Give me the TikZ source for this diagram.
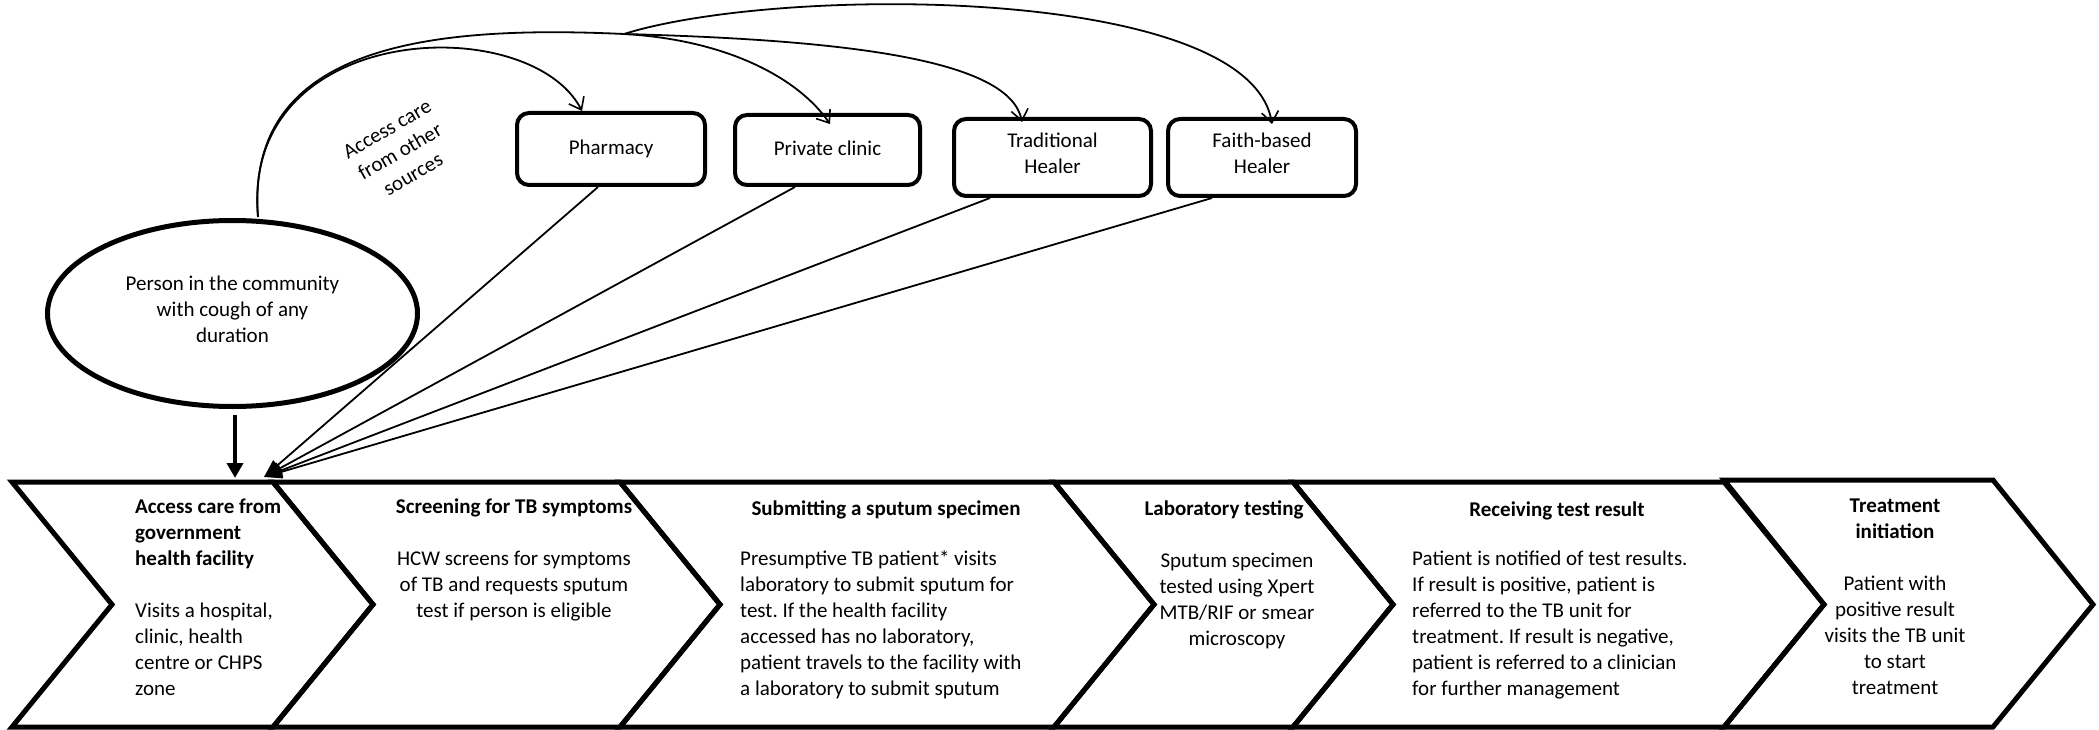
\documentclass[tikz,border=0pt]{standalone}
\usepackage{fontspec}
\setmainfont{Carlito}
\usetikzlibrary{arrows.meta,shapes.geometric}
\frenchspacing
\begin{document}
\begin{tikzpicture}[x=1pt,y=-1pt,
  every node/.style={font=\fontsize{21}{26}\selectfont\frenchspacing, inner sep=0pt,
    execute at begin node=\strut, execute at end node=\strut},
  chev/.style={draw=black, line width=5pt, line join=miter},
  srcbox/.style={draw=black, line width=4pt, rounded corners=12pt, align=center},
  cur/.style={line width=1.8pt, -{Straight Barb[length=11pt,width=17pt,line width=1.6pt]}},
  curplain/.style={line width=1.8pt},
  feed/.style={line width=1.8pt, -{Triangle[length=18pt,width=13pt]}},
  down/.style={line width=4pt, -{Triangle[length=15pt,width=16pt]}}
]
\useasboundingbox (0,0) rectangle (2099,730);

% chevrons
\draw[chev] (12,482) -- (273,482) -- (373,604.5) -- (273,727) -- (12,727) -- (112,604.5) -- cycle;
\draw[chev] (273,482) -- (620,482) -- (720,604.5) -- (620,727) -- (273,727) -- (373,604.5) -- cycle;
\draw[chev] (620,482) -- (1054,482) -- (1154,604.5) -- (1054,727) -- (620,727) -- (720,604.5) -- cycle;
\draw[chev] (1054,482) -- (1293,482) -- (1393,604.5) -- (1293,727) -- (1054,727) -- (1154,604.5) -- cycle;
\draw[chev] (1293,482) -- (1724,482) -- (1824,604.5) -- (1724,727) -- (1293,727) -- (1393,604.5) -- cycle;
\draw[chev] (1724,480) -- (1993,480) -- (2093,604.5) -- (1993,727) -- (1724,727) -- (1824,604.5) -- cycle;

% chevron texts
\node[align=left, anchor=west] (t1) at (135,601)
  {\textbf{Access care from}\\\textbf{government}\\\textbf{health facility}\\[26pt]Visits a hospital,\\clinic, health\\centre or CHPS\\zone};
\node[align=center] (t2) at (514,562)
  {\textbf{Screening for TB symptoms}\\[26pt]HCW screens for symptoms\\of TB and requests sputum\\test if person is eligible};
\node (t3h) at (886,510) {\textbf{Submitting a sputum specimen}};
\node[align=left, anchor=west] (t3b) at (740,627)
  {Presumptive TB patient* visits\\laboratory to submit sputum for\\test. If the health facility\\accessed has no laboratory,\\patient travels to the facility with\\a laboratory to submit sputum};
\node (t4h) at (1224,510) {\textbf{Laboratory testing}};
\node[align=center] (t4b) at (1237,603)
  {Sputum specimen\\tested using Xpert\\MTB/RIF or smear\\microscopy};
\node (t5h) at (1557,511) {\textbf{Receiving test result}};
\node[align=left, anchor=west] (t5b) at (1412,627)
  {Patient is notified of test results.\\If result is positive, patient is\\referred to the TB unit for\\treatment. If result is negative,\\patient is referred to a clinician\\for further management};
\node[align=center] (t6) at (1895,601)
  {\textbf{Treatment}\\\textbf{initiation}\\[26pt]Patient with\\positive result\\visits the TB unit\\to start\\treatment};

% person ellipse
\node[draw=black, ellipse, line width=5pt, minimum width=370, minimum height=186, align=center] (el) at (232.5,313.5)
  {Person in the community\\with cough of any\\duration};

% source boxes
\node[srcbox, minimum width=188, minimum height=72] (ph) at (611,149) {Pharmacy};
\node[srcbox, minimum width=185, minimum height=70] (pc) at (827.5,150) {Private clinic};
\node[srcbox, minimum width=197, minimum height=77] (th) at (1052.5,157.5) {Traditional\\Healer};
\node[srcbox, minimum width=188, minimum height=77] (fh) at (1262,157.5) {Faith-based\\Healer};

% rotated label
\node[rotate=30, align=center] (lab) at (402,155) {Access care\\from other\\sources};

% coordinates
\coordinate (S) at (258,217);
\coordinate (J) at (624,34);
\coordinate (aph) at (582,111);
\coordinate (apc) at (830,124);
\coordinate (ath) at (1022,122);
\coordinate (afh) at (1272,124);
\coordinate (T) at (264,477);
\coordinate (D) at (235,478);

% curves to other sources
\draw[cur] (S) .. controls (240,20) and (530,10) .. (aph);
\draw[curplain] (S) .. controls (245,45) and (430,25) .. (J);
\draw[cur] (J) .. controls (730,40) and (800,80) .. (apc);
\draw[cur] (J) .. controls (850,40) and (1010,60) .. (ath);
\draw[cur] (J) .. controls (780,-15) and (1250,-15) .. (afh);

% lines back to government facility
\draw[feed] ([xshift=-13pt]ph.south) -- (T);
\draw[feed] ([xshift=-32.5pt]pc.south) -- (T);
\draw[feed] ([xshift=-62.5pt]th.south) -- (T);
\draw[feed] ([xshift=-50pt]fh.south) -- (T);

% down arrow from ellipse
\draw[down] ([xshift=2.5pt,yshift=-6pt]el.south) -- (D);
\end{tikzpicture}
\end{document}
